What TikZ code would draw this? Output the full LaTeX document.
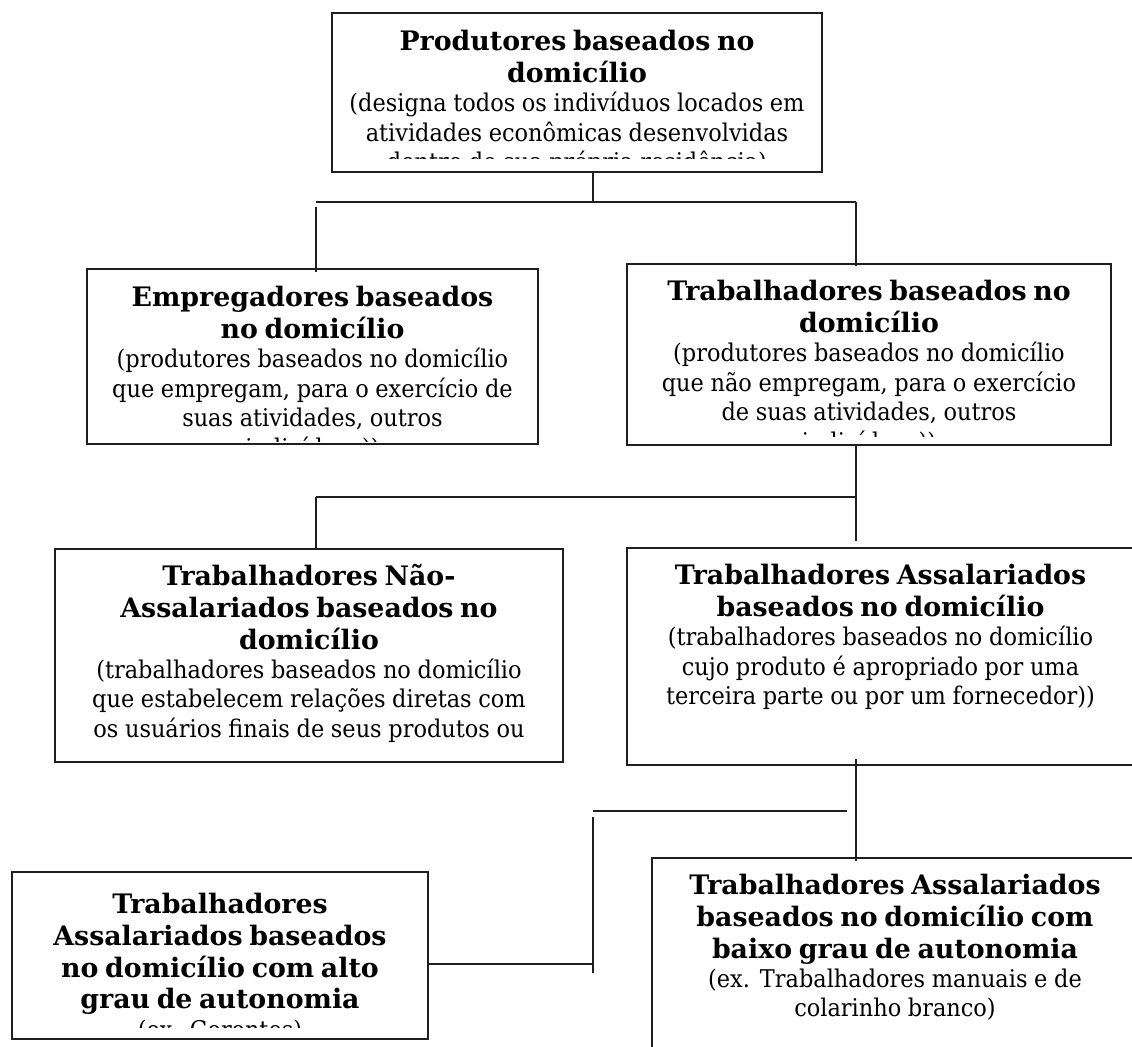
\documentclass[tikz,border=0pt]{standalone}
\usepackage{fontspec}
\newfontfamily\ttlfam{DejaVu Serif}
\newfontfamily\bodyfam{DejaVu Serif}[FakeStretch=0.92]
\usetikzlibrary{calc}
\newcommand{\ttl}{\ttlfam\bfseries\fontsize{13.4}{15.8}\selectfont}
\newcommand{\bdy}{\bodyfam\fontsize{12.2}{14.7}\selectfont}
\tikzset{
  frame/.style={draw=black!88, line width=1.1pt, rectangle, inner sep=0pt, outer sep=0pt, anchor=north west},
  txt/.style={anchor=base, align=center, inner sep=0pt, outer sep=0pt},
  conn/.style={draw=black!88, line width=1.1pt}
}
% name, x1, y1, x2, y2, first-baseline offset, clip inset, text
\newcommand{\mkbox}[8]{%
  \node[frame, minimum width={(#4-#2)*0.5pt}, minimum height={(#5-#3)*0.5pt}] (#1) at (#2,#3) {};
  \begin{scope}
    \clip (#2,#3) rectangle (#4,{#5-#7});
    \node[txt, text width={(#4-#2-16)*0.5pt}] (#1t) at ({(#2+#4)/2},{#3+#6}) {#8};
  \end{scope}
}
\begin{document}
\begin{tikzpicture}[x=0.5pt,y=-0.5pt]
\useasboundingbox (0,0) rectangle (1132,1047);
\fill[white] (0,0) rectangle (1132,1047);

\mkbox{top}{332}{13}{822}{172}{38}{13}{{\ttl Produtores baseados no\\domicílio\par}{\bdy (designa todos os indivíduos locados em\\atividades econômicas desenvolvidas\\dentro de sua própria residência)\par}}

\mkbox{emp}{87}{269}{538}{444}{38}{2}{{\ttl Empregadores baseados\\no domicílio\par}{\bdy (produtores baseados no domicílio\\que empregam, para o exercício de\\suas atividades, outros\\indivíduos))\par}}

\mkbox{trab}{627}{264}{1111}{445}{37}{8}{{\ttl Trabalhadores baseados no\\domicílio\par}{\bdy (produtores baseados no domicílio\\que não empregam, para o exercício\\de suas atividades, outros\\indivíduos))\par}}

\mkbox{nao}{55}{549}{563}{762}{37}{17}{{\ttl Trabalhadores Não-\\Assalariados baseados no\\domicílio\par}{\bdy (trabalhadores baseados no domicílio\\que estabelecem relações diretas com\\os usuários finais de seus produtos ou\\serviços))\par}}

\mkbox{assal}{627}{548}{1134}{765}{37}{5}{{\ttl Trabalhadores Assalariados\\baseados no domicílio\par}{\bdy (trabalhadores baseados no domicílio\\cujo produto é apropriado por uma\\terceira parte ou por um fornecedor))\par}}

\mkbox{lowl}{12}{872}{428}{1039}{42}{11}{{\ttl Trabalhadores\\Assalariados baseados\\no domicílio com alto\\grau de autonomia\par}{\bdy (ex. Gerentes)\par}}

\mkbox{lowr}{652}{858}{1138}{1080}{37}{5}{{\ttl Trabalhadores Assalariados\\baseados no domicílio com\\baixo grau de autonomia\par}{\bdy (ex. Trabalhadores manuais e de\\colarinho branco)\par}}

% junction coordinates
\coordinate (j1) at (593,202);
\coordinate (j1l) at (316,202);
\coordinate (j1r) at (856,202);
\coordinate (j2l) at (316,497);
\coordinate (j2r) at (856,497);
\coordinate (j2e) at (856,541);
\coordinate (j3a) at (593,811);
\coordinate (j3b) at (847,811);
\coordinate (j3t) at (593,817);
\coordinate (j3m) at (593,964);
\coordinate (j3e) at (593,973);
\coordinate (j4) at (856,765);

\draw[conn] (top.south -| j1) -- (j1);
\draw[conn] (j1l) -- (j1r);
\draw[conn] ([yshift=-2.5pt]j1l) -- ([yshift=-1.5pt]emp.north -| j1l);
\draw[conn] (j1r) -- ([yshift=-1pt]trab.north -| j1r);

\draw[conn] (trab.south -| j2r) -- (j2e);
\draw[conn] (j2l) -- (j2r);
\draw[conn] (j2l) -- (nao.north -| j2l);

\draw[conn] ([yshift=3pt]assal.south -| j4) -- ([yshift=-1.5pt]lowr.north -| j4);
\draw[conn] (j3a) -- (j3b);
\draw[conn] (j3t) -- (j3e);
\draw[conn] (lowl.east |- j3m) -- (j3m);
\end{tikzpicture}
\end{document}
